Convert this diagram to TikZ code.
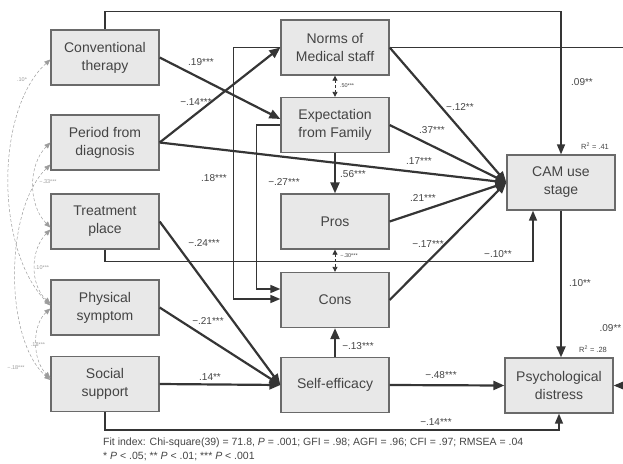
\documentclass[tikz,border=0pt]{standalone}
\usepackage{fontspec}
\setmainfont{Liberation Sans}
\usetikzlibrary{arrows.meta}

\definecolor{semInk}{HTML}{353535}
\definecolor{semText}{HTML}{444444}
\definecolor{semBox}{HTML}{E8E8E8}
\definecolor{semEdge}{HTML}{6A6A6A}
\definecolor{semFaint}{HTML}{9C9C9C}

\begin{document}
\begin{tikzpicture}[x=1pt,y=-1pt,text=semText,
  box/.style={draw=semEdge,fill=semBox,line width=1.3pt,minimum width=108pt,
    minimum height=55pt,align=center,inner sep=2pt,font=\fontsize{14}{18}\selectfont},
  causal/.style={draw=semInk,line width=2.2pt,-{Triangle[length=11pt,width=9pt]}},
  elbow/.style={draw=semInk,line width=1.6pt,-{Triangle[length=10pt,width=8pt]}},
  corr/.style={draw=semInk,line width=0.8pt,densely dashed,
    {Triangle[length=5pt,width=5pt]}-{Triangle[length=5pt,width=5pt]}},
  cov/.style={draw=semFaint,line width=0.5pt,densely dashed,
    {Triangle[length=6pt,width=5pt]}-{Triangle[length=6pt,width=5pt]}},
  lbl/.style={font=\fontsize{10}{12}\selectfont,inner sep=0.5pt},
  small/.style={font=\fontsize{7.5}{9}\selectfont,inner sep=0.5pt},
  tiny/.style={font=\fontsize{5.5}{7}\selectfont,text=semFaint,inner sep=0.5pt}]

  \useasboundingbox (0,0) rectangle (623,463);

  % variables
  \node[box] (conv) at (105,57.5) {Conventional\\therapy};
  \node[box] (period) at (105,142.5) {Period from\\diagnosis};
  \node[box] (treat) at (105,221.5) {Treatment\\place};
  \node[box] (phys) at (105,307.5) {Physical\\symptom};
  \node[box] (social) at (105,384) {Social\\support};
  \node[box] (norms) at (335,47.5) {Norms of\\Medical staff};
  \node[box] (expect) at (335,125) {Expectation\\from Family};
  \node[box] (pros) at (335,221.5) {Pros};
  \node[box] (cons) at (335,300) {Cons};
  \node[box] (selfeff) at (335,385) {Self-efficacy};
  \node[box] (cam) at (561,182.5) {CAM use\\stage};
  \node[box] (psych) at (559,385.5) {Psychological\\distress};

  % elbow paths
  \draw[elbow] (conv.north) -- ++(0,-18) -| (cam.north);
  \draw[elbow,line width=1.2pt] (norms.east) -- ++(245,0) |- (psych.east);
  \draw[elbow] (treat.south) -- ++(0,12) -| ([xshift=-28pt]cam.south);
  \draw[elbow] (social.south) -- ++(0,18) -| (psych.south);
  \draw[elbow] (norms.west) -- ++(-47,0) |- ([yshift=1pt]cons.west);
  \draw[elbow] (expect.west) -- ++(-24,0) |- ([yshift=11pt]cons.west);

  % direct paths
  \draw[causal] (conv.east) -- ([yshift=6pt]expect.west);
  \draw[causal] (period.east) -- (norms.west);
  \draw[causal] (period.east) -- (cam.west);
  \draw[causal] (norms.east) -- (cam.west);
  \draw[causal] (expect.east) -- (cam.west);
  \draw[causal] (pros.east) -- (cam.west);
  \draw[causal] (cons.east) -- (cam.west);
  \draw[causal] (expect.south) -- (pros.north);
  \draw[causal] (selfeff.north) -- (cons.south);
  \draw[causal] (treat.east) -- (selfeff.west);
  \draw[causal] (phys.east) -- (selfeff.west);
  \draw[causal] (social.east) -- (selfeff.west);
  \draw[causal] (selfeff.east) -- (psych.west);
  \draw[causal] (cam.south) -- (cam.south |- psych.north);
  \draw[corr] (norms.south) -- (expect.north);
  \draw[corr] (pros.south) -- (cons.north);

  % covariances among exogenous variables
  \draw[cov] ([yshift=-2pt]conv.west) .. controls (-5,110) and (-5,250) .. ([yshift=2pt]phys.west);
  \draw[cov] (period.west) .. controls (28,165) and (28,205) .. ([yshift=-6pt]treat.west);
  \draw[cov] ([yshift=-22pt]period.west) .. controls (4,210) and (4,340) .. ([yshift=4pt]social.west);
  \draw[cov] ([yshift=-8pt]treat.west) .. controls (30,250) and (30,285) .. ([yshift=4pt]phys.west);
  \draw[cov] ([yshift=-1pt]phys.west) .. controls (32,325) and (32,360) .. ([yshift=6pt]social.west);

  % coefficients
  \node[lbl] (c19) at (201,62) {.19***};
  \node[lbl] (c14a) at (196,102) {−.14***};
  \node[lbl] (c18) at (214,178) {.18***};
  \node[lbl] (c27) at (284,182) {−.27***};
  \node[tiny,text=semText] (c50) at (347,86) {.50***};
  \node[lbl] (c56) at (353,174) {.56***};
  \node[tiny,text=semText] (c30) at (349,256) {−.30***};
  \node[lbl] (c13) at (358,346) {−.13***};
  \node[lbl] (c12) at (460,107) {−.12**};
  \node[lbl] (c37) at (432,130) {.37***};
  \node[lbl] (c17a) at (419,161) {.17***};
  \node[lbl] (c21a) at (423,198) {.21***};
  \node[lbl] (c17b) at (428,244) {−.17***};
  \node[lbl] (c10a) at (498,254) {−.10**};
  \node[lbl] (c09a) at (582,82) {.09**};
  \node[lbl] (c10b) at (580,283) {.10**};
  \node[lbl,anchor=east] (c09b) at (622,328) {.09**};
  \node[lbl] (c24) at (204,243) {−.24***};
  \node[lbl] (c21b) at (208,321) {−.21***};
  \node[lbl] (c14b) at (210,377) {.14**};
  \node[lbl] (c48) at (441,375) {−.48***};
  \node[lbl] (c14c) at (436,422) {−.14***};
  \node[small] (r41) at (595,146) {R\textsuperscript{2} = .41};
  \node[small] (r28) at (593,349) {R\textsuperscript{2} = .28};

  \node[tiny] (v10) at (22,80) {.10*};
  \node[tiny] (v33) at (48,182) {−.33***};
  \node[tiny] (v12) at (42,268) {.10***};
  \node[tiny] (v18a) at (38,345) {.18***};
  \node[tiny] (v18b) at (16,368) {−.18***};

  % fit note
  \node[anchor=west,inner sep=0pt,font=\fontsize{10.5}{12}\selectfont] (fit) at (103,443)
    {Fit index: Chi-square(39) = 71.8, \textit{P} = .001; GFI = .98; AGFI = .96; CFI = .97; RMSEA = .04};
  \node[anchor=west,inner sep=0pt,font=\fontsize{10.5}{12}\selectfont] (sig) at (103,456)
    {* \textit{P} < .05; ** \textit{P} < .01; *** \textit{P} < .001};
\end{tikzpicture}
\end{document}
